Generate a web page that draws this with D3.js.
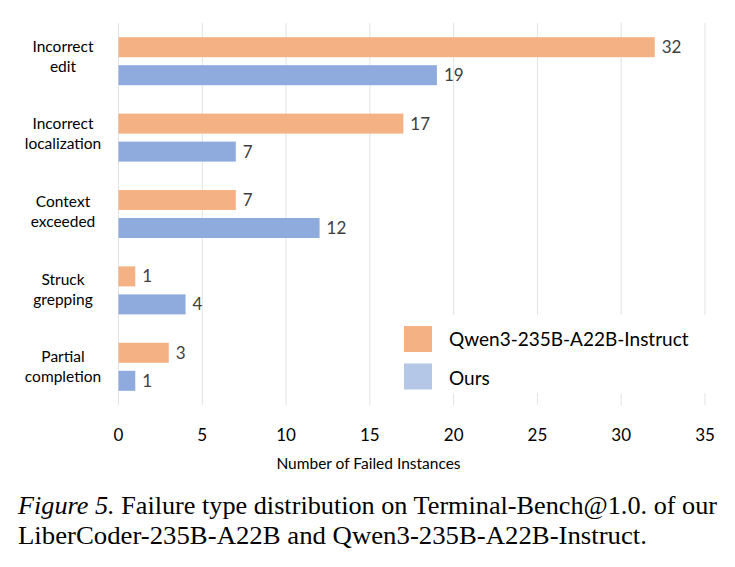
<!DOCTYPE html>
<html>
<head>
<meta charset="utf-8">
<script src="https://cdn.jsdelivr.net/npm/d3@7"></script>
<style>
  body { margin: 0; background: #fff; }
  svg { display: block; }
</style>
</head>
<body>
<svg id="chart" width="735" height="567"></svg>
<script>
// data
const categories = [["Incorrect", "edit"], ["Incorrect", "localization"], ["Context", "exceeded"], ["Struck", "grepping"], ["Partial", "completion"]]
const qwenValues = [32, 17, 7, 1, 3]
const oursValues = [19, 7, 12, 4, 1]
const xTicks = [0, 5, 10, 15, 20, 25, 30, 35]
const seriesNames = ["Qwen3-235B-A22B-Instruct", "Ours"]

const svg = d3.select("#chart")
const font = "Lato, 'Open Sans', sans-serif"

const x = d3.scaleLinear().domain([0, 35]).range([118.5, 705])
const y = d3.scaleBand().domain(d3.range(categories.length)).range([23, 405])
// labels drift a little lower than the bars in the original
const yLabel = d3.scaleBand().domain(d3.range(categories.length)).range([23, 411])

// gridlines
svg.append("g").selectAll("line")
    .data(xTicks)
    .join("line")
    .attr("x1", d => x(d)).attr("x2", d => x(d))
    .attr("y1", 23).attr("y2", 405)
    .attr("stroke", "#e3e3e3")
    .attr("stroke-width", 1)

const barH = 20, gap = 8
const series = [
    {name: seriesNames[0], values: qwenValues, color: "#F4B183", legend: "#F4B183", off: -gap / 2 - barH},
    {name: seriesNames[1], values: oursValues, color: "#8FAADC", legend: "#B4C7E7", off: gap / 2}
]

series.forEach(s => {
    const g = svg.append("g")
    g.selectAll("rect")
        .data(s.values)
        .join("rect")
        .attr("x", x(0))
        .attr("y", (d, i) => y(i) + y.bandwidth() / 2 + s.off)
        .attr("width", d => x(d) - x(0))
        .attr("height", barH)
        .attr("fill", s.color)
    g.selectAll("text")
        .data(s.values)
        .join("text")
        .attr("x", d => x(d) + 7)
        .attr("y", (d, i) => y(i) + y.bandwidth() / 2 + s.off + barH / 2)
        .attr("dy", "0.35em")
        .attr("font-family", font)
        .attr("font-size", 17)
        .attr("fill", "#404040")
        .text(d => d)
})

// category labels, two lines each
const cats = svg.append("g")
categories.forEach((c, i) => {
    const cy = yLabel(i) + yLabel.bandwidth() / 2
    const t = cats.append("text")
        .attr("text-anchor", "middle")
        .attr("font-family", font)
        .attr("font-size", 15.5)
        .attr("fill", "#000")
    t.append("tspan").attr("x", 63).attr("y", cy - 10).text(c[0])
    t.append("tspan").attr("x", 63).attr("y", cy + 10).text(c[1])
})

// x axis tick labels
svg.append("g").selectAll("text")
    .data(xTicks)
    .join("text")
    .attr("x", d => x(d))
    .attr("y", 441)
    .attr("text-anchor", "middle")
    .attr("font-family", font)
    .attr("font-size", 17)
    .attr("fill", "#000")
    .text(d => d)

svg.append("text")
    .attr("x", 368.5)
    .attr("y", 469)
    .attr("text-anchor", "middle")
    .attr("font-family", font)
    .attr("font-size", 15.5)
    .attr("fill", "#000")
    .text("Number of Failed Instances")

// legend, white box over the gridlines
const legend = svg.append("g")
legend.append("rect")
    .attr("x", 392).attr("y", 315)
    .attr("width", 330).attr("height", 78)
    .attr("fill", "#fff")
series.forEach((s, i) => {
    legend.append("rect")
        .attr("x", 404).attr("y", 326 + i * 37.5)
        .attr("width", 28).attr("height", 26)
        .attr("fill", s.legend)
    legend.append("text")
        .attr("x", 449).attr("y", 339 + i * 39)
        .attr("dy", "0.35em")
        .attr("font-family", font)
        .attr("font-size", 19)
        .attr("fill", "#000")
        .text(s.name)
})

// caption
const capFont = "'Liberation Serif', 'Times New Roman', serif"
const l1 = svg.append("text")
    .attr("x", 18).attr("y", 514)
    .attr("font-family", capFont)
    .attr("font-size", 24.5)
    .attr("fill", "#000")
    .attr("textLength", 699)
    .attr("lengthAdjust", "spacingAndGlyphs")
l1.append("tspan").attr("font-style", "italic").text("Figure 5.")
l1.append("tspan").text(" Failure type distribution on Terminal-Bench@1.0. of our")
svg.append("text")
    .attr("x", 18).attr("y", 544)
    .attr("font-family", capFont)
    .attr("font-size", 24.5)
    .attr("fill", "#000")
    .attr("textLength", 629)
    .attr("lengthAdjust", "spacingAndGlyphs")
    .text("LiberCoder-235B-A22B and Qwen3-235B-A22B-Instruct.")
</script>
</body>
</html>
